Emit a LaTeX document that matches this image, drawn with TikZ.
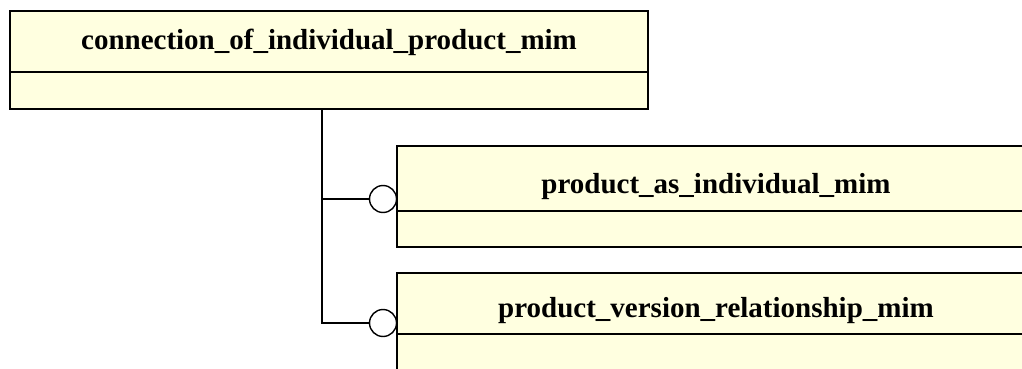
\documentclass[tikz,border=0pt]{standalone}
\usepackage{fontspec}
\setmainfont{Liberation Serif}
\definecolor{boxfill}{RGB}{255,255,224}
\begin{document}
\begin{tikzpicture}[x=1pt,y=-1pt,
  entity/.style={draw=black, line width=1.6pt, fill=boxfill, rectangle, inner sep=0pt},
  title/.style={font=\fontsize{29}{34}\selectfont\bfseries, anchor=base, inner sep=0pt},
  conn/.style={draw=black, line width=1.6pt},
  optcircle/.style={circle, draw=black, line width=1.4pt, fill=white, minimum size=27pt, inner sep=0pt}]
\useasboundingbox (0,0) rectangle (1022,369);
% connectors first (boxes overlay them)
\coordinate (trunk) at (322,109);
\node[optcircle] (k1) at (383,199) {};
\node[optcircle] (k2) at (383,323) {};
\draw[conn] (trunk) |- (k2.west);
\draw[conn] (trunk |- k1.west) -- (k1.west);
% entity boxes
\node[entity, minimum width=638pt, minimum height=98pt] (e1) at (329,60) {};
\draw[conn] (10,72) -- (648,72);
\node[title] (t1) at (329,50) {connection\_of\_individual\_product\_mim};
\node[entity, minimum width=638pt, minimum height=101pt] (e2) at (716,196.5) {};
\draw[conn] (397,211) -- (1035,211);
\node[title] (t2) at (716,193) {product\_as\_individual\_mim};
\node[entity, minimum width=638pt, minimum height=140pt] (e3) at (716,343) {};
\draw[conn] (397,334) -- (1035,334);
\node[title] (t3) at (716,317) {product\_version\_relationship\_mim};
\end{tikzpicture}
\end{document}
